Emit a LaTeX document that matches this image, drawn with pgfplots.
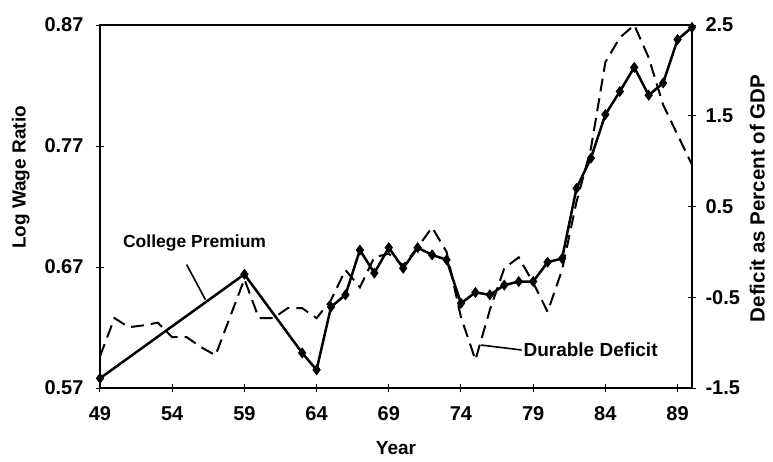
\documentclass[border=0pt]{standalone}
\usepackage{pgfplots}
\pgfplotsset{compat=1.18}
\usepackage{fontspec}
\setmainfont{Liberation Sans}
\pgfplotstableread{
x y
49 0.578
59 0.664
63 0.599
64 0.585
65 0.637
66 0.647
67 0.684
68 0.665
69 0.686
70 0.669
71 0.686
72 0.680
73 0.676
74 0.640
75 0.649
76 0.647
77 0.655
78 0.658
79 0.658
80 0.674
81 0.677
82 0.735
83 0.760
84 0.796
85 0.815
86 0.835
87 0.812
88 0.822
89 0.858
90 0.868
}\premium
\pgfplotstableread{
x y
49 -1.15
50 -0.73
51 -0.83
52 -0.81
53 -0.78
54 -0.94
55 -0.94
56 -1.05
57 -1.14
58 -0.72
59 -0.30
60 -0.73
61 -0.73
62 -0.62
63 -0.62
64 -0.73
65 -0.53
66 -0.20
67 -0.39
68 -0.06
69 -0.02
70 -0.15
71 0.05
72 0.27
73 0.00
74 -0.72
75 -1.19
76 -0.64
77 -0.18
78 -0.06
79 -0.34
80 -0.66
81 -0.20
82 0.55
83 1.14
84 2.09
85 2.36
86 2.50
87 2.14
88 1.62
89 1.29
90 0.96
}\deficit
\begin{document}
\begin{tikzpicture}
\path[use as bounding box] (-100pt,-73pt) rectangle (673pt,388pt);
\pgfplotsset{
  every axis/.append style={
    scale only axis, width=592pt, height=363pt,
    at={(0pt,0pt)}, anchor=south west,
    xmin=49, xmax=90,
    tick align=center, major tick length=8pt,
    every tick/.style={black, line width=1pt},
    axis line style={line width=1.3pt},
    tick label style={font=\fontsize{20}{22}\selectfont\bfseries},
    label style={font=\fontsize{19}{21}\selectfont\bfseries},
  }
}
\begin{axis}[
  ymin=0.57, ymax=0.87,
  ytick={0.57,0.67,0.77,0.87},
  yticklabels={0.57,0.67,0.77,0.87},
  xtick={49,54,59,64,69,74,79,84,89},
  xticklabels={49,54,59,64,69,74,79,84,89},
  ytick pos=left, xtick pos=bottom,
  xlabel={Year},
  ylabel={Log Wage Ratio},
  xticklabel style={yshift=-11pt},
  yticklabel style={xshift=-9pt},
  xlabel style={yshift=-14pt},
  ylabel style={yshift=8pt, xshift=29pt},
]
\addplot[black, line width=2.5pt, mark=diamond*, mark size=3.5pt, mark options={solid}] table[x=x,y=y] {\premium};
\node[font=\fontsize{17.5}{20}\selectfont\bfseries] at (axis cs:55.55,0.690) {College Premium};
\draw[line width=1.6pt] (axis cs:55.0,0.672) -- (axis cs:56.3,0.643);
\draw[line width=1.6pt] (axis cs:75.4,0.6055) -- (axis cs:78.2,0.6014);
\node[anchor=west, inner sep=1pt, font=\fontsize{19}{21}\selectfont\bfseries] at (axis cs:78.25,0.6014) {Durable Deficit};
\end{axis}
\begin{axis}[
  ymin=-1.5, ymax=2.5,
  ytick={-1.5,-0.5,0.5,1.5,2.5},
  yticklabels={-1.5,-0.5,0.5,1.5,2.5},
  axis y line*=right, axis x line=none,
  ylabel={Deficit as Percent of GDP},
  yticklabel style={xshift=6pt},
  ylabel style={yshift=-3pt, xshift=8pt, font=\fontsize{20.5}{23}\selectfont\bfseries},
]
\addplot[black, line width=2pt, dash pattern=on 13pt off 7pt] table[x=x,y=y] {\deficit};
\end{axis}
\end{tikzpicture}
\end{document}
